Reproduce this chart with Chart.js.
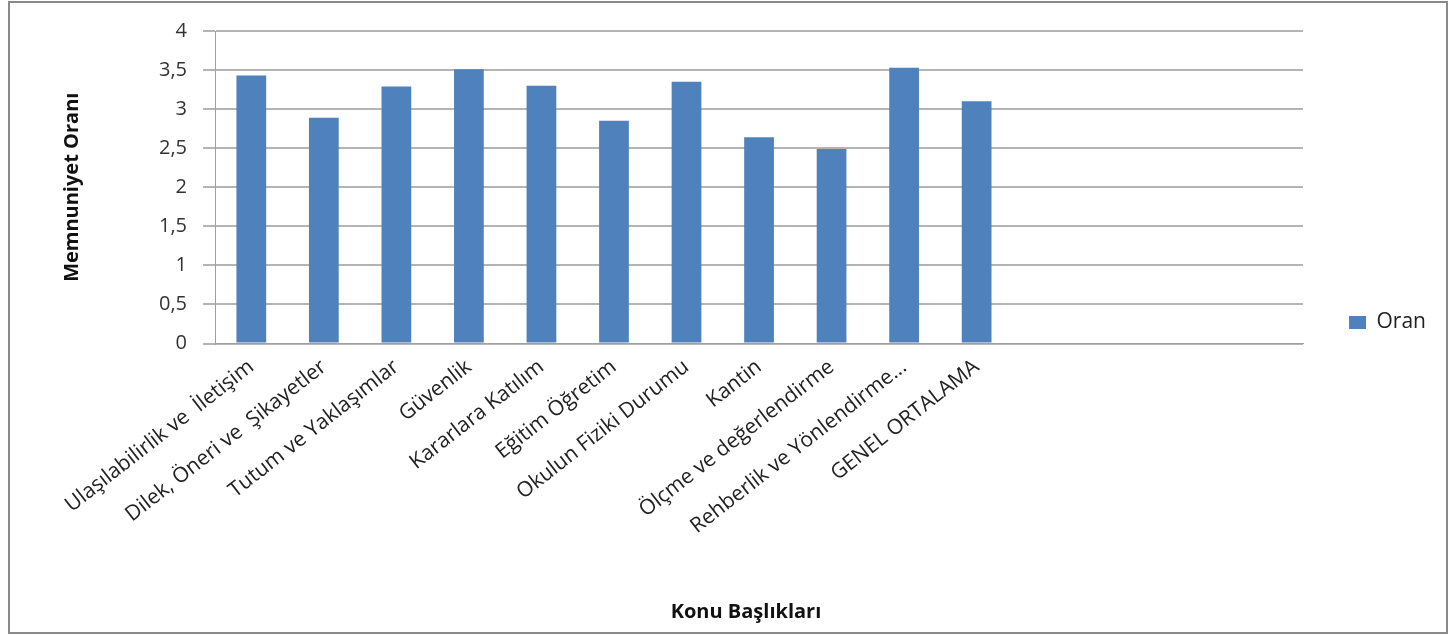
<!DOCTYPE html>
<html>
<head>
<meta charset="utf-8">
<script src="https://cdn.jsdelivr.net/npm/chart.js@4"></script>
<style>
  body { margin: 0; background: #fff; }
  #frame {
    position: absolute; left: 8px; top: 1px;
    width: 1436px; height: 629px;
    border: 2px solid #8a8a8a; background: #fff;
  }
  canvas { display: block; }
</style>
</head>
<body>
<div id="frame"><canvas id="chart" width="1436" height="629"></canvas></div>
<script>
// categories (the last 4 slots are empty in the original sheet)
const categories = [
  'Ulaşılabilirlik ve  İletişim',
  'Dilek, Öneri ve  Şikayetler',
  'Tutum ve Yaklaşımlar',
  'Güvenlik',
  'Kararlara Katılım',
  'Eğitim Öğretim',
  'Okulun Fiziki Durumu',
  'Kantin',
  'Ölçme ve değerlendirme',
  'Rehberlik ve Yönlendirme...',
  'GENEL ORTALAMA',
  '', '', '', ''
];
const oran = [3.43, 2.89, 3.29, 3.51, 3.30, 2.85, 3.35, 2.64, 2.49, 3.53, 3.10, null, null, null, null];
const yTicks = [0, 0.5, 1, 1.5, 2, 2.5, 3, 3.5, 4];

const font = '"Open Sans", sans-serif';

new Chart(document.getElementById('chart'), {
    type: 'bar',
    data: {
        labels: categories,
        datasets: [{
            label: 'Oran',
            data: oran,
            backgroundColor: '#4f81bd',
            barPercentage: 0.41,
            categoryPercentage: 1
        }]
    },
    options: {
        responsive: false,
        animation: false,
        layout: { padding: { top: 18, right: 10, left: 46, bottom: 8 } },
        plugins: {
            legend: {
                position: 'right',
                labels: {
                    font: { family: font, size: 21 },
                    color: '#222',
                    boxWidth: 17,
                    boxHeight: 13,
                    padding: 10
                }
            },
            title: {
                display: true,
                position: 'bottom',
                text: 'Konu Başlıkları',
                color: '#111',
                font: { family: font, size: 20, weight: 'bold' },
                padding: { top: 58, bottom: 0 }
            },
            tooltip: { enabled: false }
        },
        scales: {
            x: {
                grid: { display: false },
                border: { color: '#a0a0a0' },
                ticks: {
                    minRotation: 38,
                    maxRotation: 38,
                    autoSkip: false,
                    color: '#222',
                    font: { family: font, size: 21 }
                }
            },
            y: {
                min: 0,
                max: 4,
                afterBuildTicks: axis => { axis.ticks = yTicks.map(v => ({ value: v })); },
                grid: { color: '#b4b4b4', lineWidth: 2, tickLength: 12 },
                border: { color: '#a0a0a0' },
                ticks: {
                    color: '#333',
                    padding: 16,
                    font: { family: font, size: 20 },
                    callback: v => String(v).replace('.', ',')
                },
                title: {
                    display: true,
                    text: 'Memnuniyet Oranı',
                    color: '#111',
                    font: { family: font, size: 20, weight: 'bold' },
                    padding: { bottom: 59 }
                }
            },
            gap: {
                position: 'right',
                display: true,
                grid: { display: false },
                border: { display: false },
                ticks: { display: false },
                afterFit: s => { s.width = 36; }
            }
        }
    }
});
</script>
</body>
</html>
